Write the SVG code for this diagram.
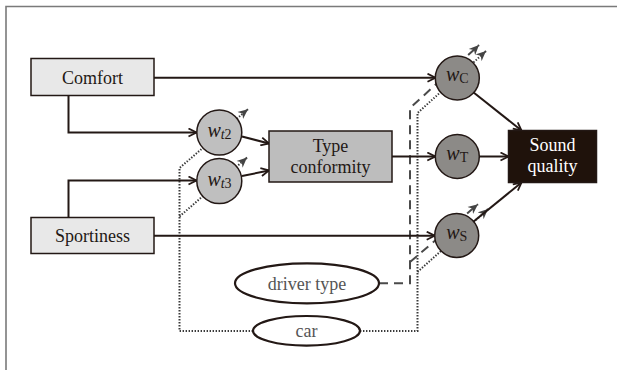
<svg xmlns="http://www.w3.org/2000/svg" width="617" height="370" viewBox="0 0 617 370">
  <style>
    .frame { fill: none; stroke: #7a7a7a; stroke-width: 1.6; }
    .box { stroke: #231815; stroke-width: 1.5; }
    .lbl { font-family: "Liberation Serif", "Times New Roman", serif; font-size: 18px; fill: #231815; text-anchor: middle; }
    .wl { font-family: "Liberation Serif", "Times New Roman", serif; font-size: 20px; fill: #231815; text-anchor: middle; }
    .sub { font-size: 14px; }
    .it { font-style: italic; }
    .solid { fill: none; stroke: #231815; stroke-width: 2; marker-end: url(#open); }
    .plain { fill: none; stroke: #231815; stroke-width: 2; }
    .dash { fill: none; stroke: #4a4a4a; stroke-width: 2; stroke-dasharray: 9 6; }
    .dot { fill: none; stroke: #3a3a3a; stroke-width: 2; stroke-dasharray: 1.4 1.6; }
    .mod { marker-end: url(#stealth); }
  </style>
  <defs>
    <marker id="open" viewBox="0 0 10 10" refX="9.5" refY="5" markerWidth="10" markerHeight="10" orient="auto" markerUnits="userSpaceOnUse">
      <path d="M1.5,1 L9.5,5 L1.5,9" fill="none" stroke="#231815" stroke-width="1.8"/>
    </marker>
    <marker id="stealth" viewBox="0 0 10 10" refX="10" refY="5" markerWidth="10" markerHeight="10" orient="auto" markerUnits="userSpaceOnUse">
      <path d="M0,0.5 L10,5 L0,9.5 L3,5 Z" fill="#444"/>
    </marker>
  </defs>

  <rect width="617" height="370" fill="#ffffff"/>
  <path class="frame" d="M6,370 V6.5 H617"/>

  <g id="connectors">
    <!-- driver type influence (dashed) -->
    <path class="dash" d="M379,283.3 H410 V108 L478,46"/>
    <path class="dash mod" d="M478,46 L479,45"/>
    <path class="dash" d="M410,262 L477,205"/>
    <path class="dash mod" d="M477,205 L478,204.2"/>
    <!-- car influence (dotted) -->
    <path class="dot" d="M253,331 H179.5 V168 L247,110"/>
    <path class="dot mod" d="M247,110 L248,109.2"/>
    <path class="dot" d="M179.5,216.5 L246,158.5"/>
    <path class="dot mod" d="M246,158.5 L247,157.6"/>
    <path class="dot" d="M360,331 H417.5 V113 L485,52"/>
    <path class="dot mod" d="M485,52 L486,51.1"/>
    <path class="dot" d="M417.5,272 L487,210"/>
    <path class="dot mod" d="M487,210 L488,209.1"/>
    <!-- main paths -->
    <path class="solid" d="M154,77.7 H435.5"/>
    <path class="solid" d="M68.5,95 V132.5 H196.5"/>
    <path class="solid" d="M68.5,217 V180.5 H196.5"/>
    <path class="solid" d="M154,235.7 H434.7"/>
    <path class="solid" d="M242,136.5 L269,143.5"/>
    <path class="solid" d="M242,176 L269,170.5"/>
    <path class="solid" d="M392,156.5 H435.3"/>
    <path class="solid" d="M479.3,156.5 H508.5"/>
    <path class="solid" d="M473,92 L521.5,130.5"/>
    <path class="solid" d="M473,222 L521.5,182.5"/>
  </g>

  <g id="comfort">
    <rect class="box" x="31" y="58.5" width="123" height="37" fill="#e8e8e8"/>
    <text class="lbl" x="92.5" y="83.5">Comfort</text>
  </g>
  <g id="sportiness">
    <rect class="box" x="31" y="217.5" width="123" height="36" fill="#e8e8e8"/>
    <text class="lbl" x="92.5" y="241.5">Sportiness</text>
  </g>
  <g id="type-conformity">
    <rect class="box" x="269" y="131" width="123" height="51" fill="#bdbdbd"/>
    <text class="lbl" x="330.5" y="152">Type</text>
    <text class="lbl" x="330.5" y="172.5">conformity</text>
  </g>
  <g id="sound-quality">
    <rect class="box" x="508.5" y="130.5" width="88" height="52" fill="#1f120b"/>
    <text class="lbl" x="552.5" y="151" fill="#ffffff" style="fill:#ffffff">Sound</text>
    <text class="lbl" x="552.5" y="171.5" style="fill:#ffffff">quality</text>
  </g>

  <g id="w-t2">
    <circle cx="219.3" cy="132.5" r="22.5" fill="#bfbfbf" stroke="#231815" stroke-width="1.5"/>
    <text class="wl" x="219.5" y="137"><tspan class="it">w</tspan><tspan class="sub it" dy="2">t</tspan><tspan class="sub">2</tspan></text>
  </g>
  <g id="w-t3">
    <circle cx="219.3" cy="181" r="22.5" fill="#bfbfbf" stroke="#231815" stroke-width="1.5"/>
    <text class="wl" x="219.5" y="185.5"><tspan class="it">w</tspan><tspan class="sub it" dy="2">t</tspan><tspan class="sub">3</tspan></text>
  </g>
  <g id="w-c">
    <circle cx="457.3" cy="78" r="22" fill="#8c8a87" stroke="#231815" stroke-width="1.5"/>
    <text class="wl" x="457.3" y="81"><tspan class="it">w</tspan><tspan class="sub" dy="2">C</tspan></text>
  </g>
  <g id="w-t">
    <circle cx="457.3" cy="156.5" r="22" fill="#8c8a87" stroke="#231815" stroke-width="1.5"/>
    <text class="wl" x="457.3" y="159.5"><tspan class="it">w</tspan><tspan class="sub" dy="2">T</tspan></text>
  </g>
  <g id="w-s">
    <circle cx="456.7" cy="235.5" r="22" fill="#8c8a87" stroke="#231815" stroke-width="1.5"/>
    <text class="wl" x="456.7" y="238.5"><tspan class="it">w</tspan><tspan class="sub" dy="2">S</tspan></text>
  </g>

  <g id="driver-type">
    <ellipse cx="307" cy="283.3" rx="72" ry="20" fill="#ffffff" stroke="#231815" stroke-width="2.2"/>
    <text class="lbl" x="307" y="289.5" style="fill:#555555">driver type</text>
  </g>
  <g id="car">
    <ellipse cx="306.5" cy="330.8" rx="53.5" ry="14.8" fill="#ffffff" stroke="#231815" stroke-width="2.2"/>
    <text class="lbl" x="306.5" y="336.5" style="fill:#555555">car</text>
  </g>
</svg>
